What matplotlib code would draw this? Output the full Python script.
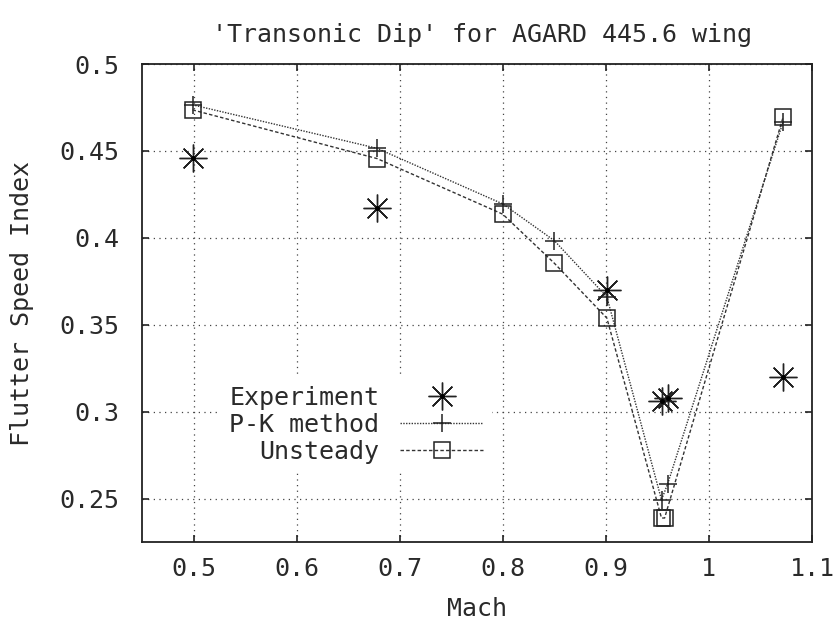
import matplotlib
matplotlib.use("Agg")
import matplotlib.pyplot as plt

# ---- data ----
mach_exp = [0.499, 0.678, 0.901, 0.954, 0.960, 1.072]
fsi_exp = [0.4459, 0.4174, 0.3700, 0.3059, 0.3076, 0.3201]

mach_pk = [0.499, 0.678, 0.800, 0.850, 0.901, 0.954, 0.960, 1.072]
fsi_pk = [0.4765, 0.4515, 0.4195, 0.3984, 0.3660, 0.2493, 0.2585, 0.4668]

mach_us = [0.499, 0.678, 0.800, 0.850, 0.901, 0.954, 0.957, 1.072]
fsi_us = [0.4736, 0.4456, 0.4136, 0.3854, 0.3538, 0.2388, 0.2388, 0.4695]

xticks = [0.5, 0.6, 0.7, 0.8, 0.9, 1.0, 1.1]
xticklabels = ["0.5", "0.6", "0.7", "0.8", "0.9", "1", "1.1"]
yticks = [0.25, 0.3, 0.35, 0.4, 0.45, 0.5]
yticklabels = ["0.25", "0.3", "0.35", "0.4", "0.45", "0.5"]

title = "'Transonic Dip' for AGARD 445.6 wing"
xlabel = "Mach"
ylabel = "Flutter Speed Index"
labels = ["Experiment", "P-K method", "Unsteady"]

# ---- style ----
FONT = "DejaVu Sans Mono"
FS = 18
TC = "#2a2a2a"
W, H = 836, 627

fig = plt.figure(figsize=(W / 100, H / 100), dpi=100)
ax = fig.add_axes([142 / W, 1 - 542 / H, 670 / W, 478 / H])

ax.set_xlim(0.45, 1.1)
ax.set_ylim(0.225, 0.5)

mc = "#222222"
pk_line, = ax.plot(mach_pk, fsi_pk, color="#333333", lw=1.0, linestyle=(0, (1, 1)),
                   marker="+", markersize=13, markeredgewidth=1.1, markeredgecolor=mc, zorder=3)
us_line, = ax.plot(mach_us, fsi_us, color="#333333", lw=1.0, linestyle=(0, (2.5, 1.6)),
                   marker="s", markersize=12, markerfacecolor="none", markeredgewidth=1.1,
                   markeredgecolor=mc, zorder=3)
exp_line, = ax.plot(mach_exp, fsi_exp, linestyle="none", marker=(8, 2, 0), markersize=20,
                    markeredgewidth=1.0, color=mc, zorder=4)
exp_dot, = ax.plot(mach_exp, fsi_exp, linestyle="none", marker="o", markersize=2.5,
                   color="black", zorder=5)

ax.set_xticks(xticks)
ax.set_xticklabels(xticklabels)
ax.set_yticks(yticks)
ax.set_yticklabels(yticklabels)

ax.grid(True, color="#444444", linestyle=(0, (1, 3.5)), linewidth=0.9, zorder=0)
ax.set_axisbelow(True)

ax.tick_params(axis="both", which="major", direction="in", length=5, width=1.2,
               top=True, right=True, colors="#222222", labelcolor=TC, labelsize=FS)
ax.tick_params(axis="x", pad=11)
ax.tick_params(axis="y", pad=16)
for lab in ax.get_xticklabels() + ax.get_yticklabels():
    lab.set_fontfamily(FONT)

for s in ax.spines.values():
    s.set_linewidth(1.3)
    s.set_color("#222222")

# legend
leg = ax.legend([(exp_line, exp_dot), pk_line, us_line], labels,
                loc="center", bbox_to_anchor=(356 / W, 1 - 425 / H),
                bbox_transform=fig.transFigure, markerfirst=False,
                frameon=True, fancybox=False, framealpha=1.0, facecolor="white",
                edgecolor="none", prop={"family": FONT, "size": FS},
                handlelength=3.3, handletextpad=0.85, labelspacing=0.12,
                borderpad=0.35, numpoints=1)
for t in leg.get_texts():
    t.set_color(TC)
leg.set_zorder(2)

fig.text(482 / W, 1 - 35 / H, title, ha="center", va="center",
         family=FONT, fontsize=FS, color=TC)
fig.text(477 / W, 1 - 609 / H, xlabel, ha="center", va="center",
         family=FONT, fontsize=FS, color=TC)
fig.text(22 / W, 1 - 304 / H, ylabel, ha="center", va="center", rotation=90,
         family=FONT, fontsize=FS, color=TC)

fig.savefig("out.png", dpi=100)
